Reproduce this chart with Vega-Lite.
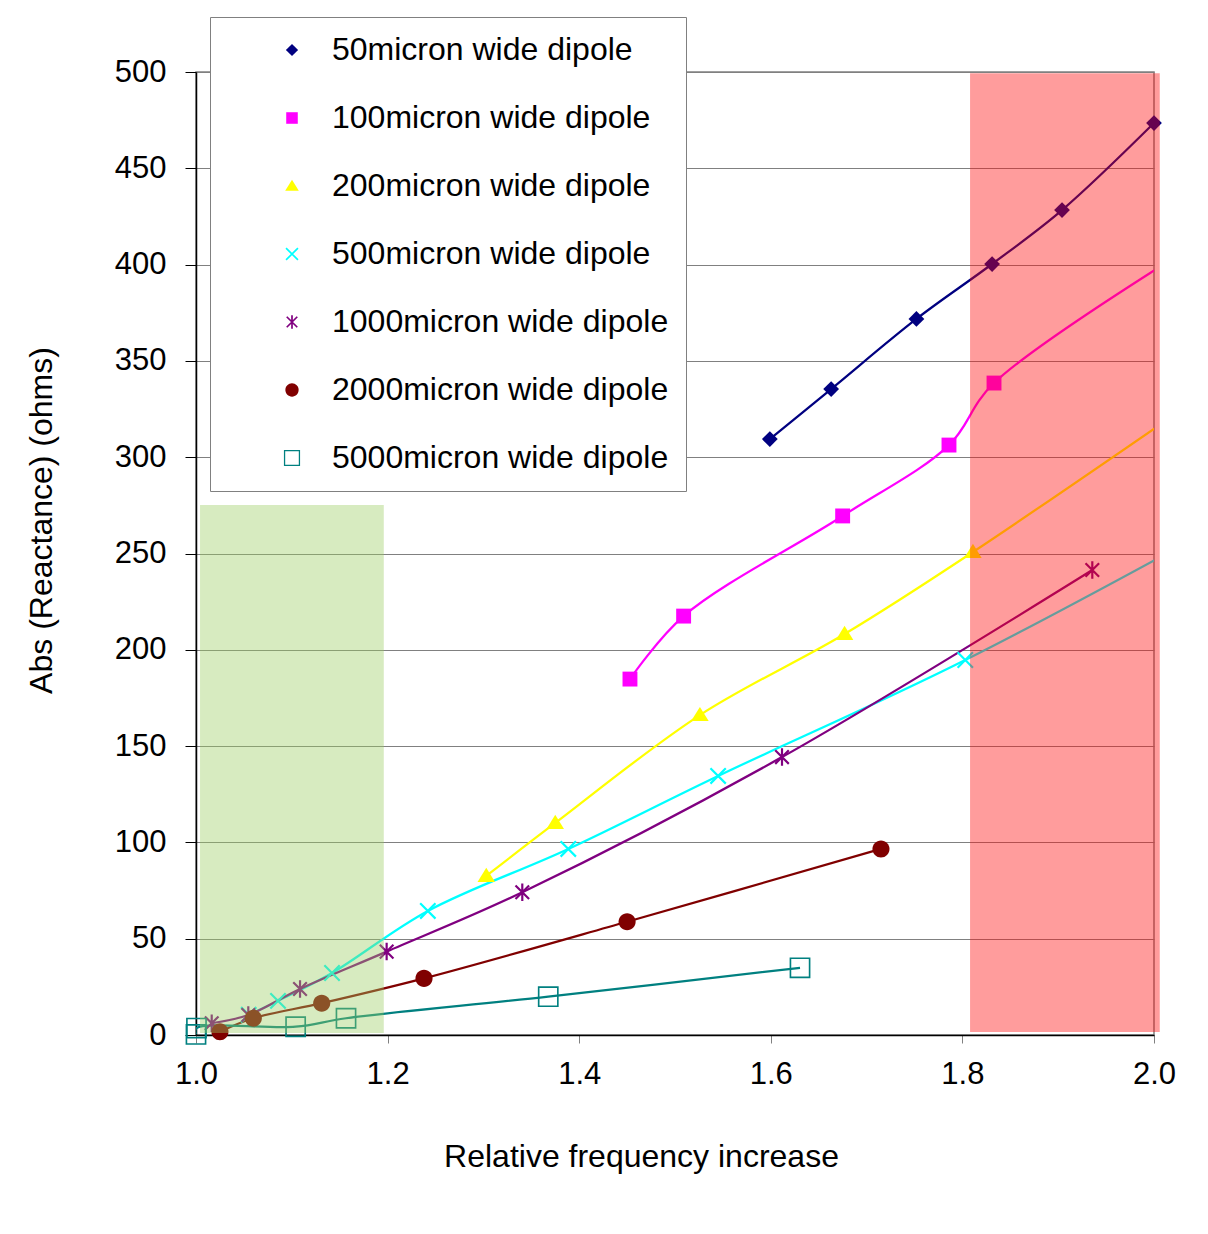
{
  "$schema": "https://vega.github.io/schema/vega-lite/v6.json",
  "width": 958,
  "height": 963,
  "autosize": {"type": "none"},
  "padding": {"left": 196, "top": 72, "right": 54, "bottom": 199},
  "background": "white",
  "config": {
    "font": "Liberation Sans",
    "view": {"stroke": "#808080", "strokeWidth": 1.5},
    "axis": {
      "labelFont": "Liberation Sans", "titleFont": "Liberation Sans",
      "labelFontSize": 31, "titleFontSize": 32, "titleFontWeight": "normal",
      "labelColor": "black", "titleColor": "black",
      "domainColor": "black", "domainWidth": 1.5
    },
    "legend": {
      "padding": 17, "rowPadding": 36, "symbolOffset": 49, "labelOffset": 24,
      "symbolSize": 289, "symbolStrokeWidth": 0,
      "labelFont": "Liberation Sans", "labelFontSize": 32, "labelColor": "black", "labelLimit": 800,
      "fillColor": "white", "strokeColor": "#808080"
    }
  },
  "datasets": {
    "pts": [
      {"series": "50micron wide dipole", "x": 1.599, "y": 309.4},
      {"series": "50micron wide dipole", "x": 1.663, "y": 335.4},
      {"series": "50micron wide dipole", "x": 1.752, "y": 371.8},
      {"series": "50micron wide dipole", "x": 1.831, "y": 400.3},
      {"series": "50micron wide dipole", "x": 1.904, "y": 428.3},
      {"series": "50micron wide dipole", "x": 2.0, "y": 473.5},
      {"series": "100micron wide dipole", "x": 1.453, "y": 184.8},
      {"series": "100micron wide dipole", "x": 1.509, "y": 217.5},
      {"series": "100micron wide dipole", "x": 1.675, "y": 269.5},
      {"series": "100micron wide dipole", "x": 1.786, "y": 306.3},
      {"series": "100micron wide dipole", "x": 1.833, "y": 338.5},
      {"series": "100micron wide dipole", "x": 2.12, "y": 434},
      {"series": "200micron wide dipole", "x": 1.303, "y": 82.6},
      {"series": "200micron wide dipole", "x": 1.375, "y": 110.1},
      {"series": "200micron wide dipole", "x": 1.526, "y": 166.1},
      {"series": "200micron wide dipole", "x": 1.677, "y": 208.2},
      {"series": "200micron wide dipole", "x": 1.811, "y": 250.8},
      {"series": "200micron wide dipole", "x": 2.12, "y": 356},
      {"series": "500micron wide dipole", "x": 1.055, "y": 10.5},
      {"series": "500micron wide dipole", "x": 1.0856, "y": 17.7},
      {"series": "500micron wide dipole", "x": 1.142, "y": 32.2},
      {"series": "500micron wide dipole", "x": 1.242, "y": 64.4},
      {"series": "500micron wide dipole", "x": 1.3886, "y": 96.6},
      {"series": "500micron wide dipole", "x": 1.545, "y": 134.5},
      {"series": "500micron wide dipole", "x": 1.803, "y": 194.7},
      {"series": "500micron wide dipole", "x": 2.12, "y": 279},
      {"series": "1000micron wide dipole", "x": 1.0164, "y": 6.1},
      {"series": "1000micron wide dipole", "x": 1.0546, "y": 10.4},
      {"series": "1000micron wide dipole", "x": 1.1086, "y": 23.9},
      {"series": "1000micron wide dipole", "x": 1.199, "y": 43.3},
      {"series": "1000micron wide dipole", "x": 1.3406, "y": 74.1},
      {"series": "1000micron wide dipole", "x": 1.6117, "y": 144.3},
      {"series": "1000micron wide dipole", "x": 1.9356, "y": 241.4},
      {"series": "2000micron wide dipole", "x": 1.025, "y": 1.7},
      {"series": "2000micron wide dipole", "x": 1.0598, "y": 8.7},
      {"series": "2000micron wide dipole", "x": 1.1312, "y": 16.5},
      {"series": "2000micron wide dipole", "x": 1.238, "y": 29.4},
      {"series": "2000micron wide dipole", "x": 1.45, "y": 58.8},
      {"series": "2000micron wide dipole", "x": 1.715, "y": 96.6},
      {"series": "5000micron wide dipole", "x": 1.0, "y": 0.3},
      {"series": "5000micron wide dipole", "x": 1.0005, "y": 3.6},
      {"series": "5000micron wide dipole", "x": 1.104, "y": 4.3},
      {"series": "5000micron wide dipole", "x": 1.1566, "y": 8.7},
      {"series": "5000micron wide dipole", "x": 1.3677, "y": 19.9},
      {"series": "5000micron wide dipole", "x": 1.6305, "y": 34.9}
    ],
    "zones": [
      {"zone": "green", "x1": 1.0042, "x2": 1.196, "y1": 1, "y2": 275.2},
      {"zone": "red", "x1": 1.808, "x2": 2.006, "y1": 1.5, "y2": 499.3}
    ]
  },
  "layer": [
    {
      "data": {"name": "pts"},
      "mark": {"type": "line", "interpolate": "catmull-rom", "strokeWidth": 2.25, "clip": true},
      "encoding": {
        "x": {"field": "x", "type": "quantitative", "scale": {"domain": [1, 2]},
          "axis": {"values": [1, 1.2, 1.4, 1.6, 1.8, 2.0], "format": ".1f", "grid": false, "tickSize": 8, "tickColor": "#808080",
            "labelPadding": 16, "labelFlush": false, "labelOverlap": false, "title": "Relative frequency increase", "titlePadding": 52, "titleX": 445}},
        "y": {"field": "y", "type": "quantitative", "scale": {"domain": [0, 500]},
          "axis": {"values": [0, 50, 100, 150, 200, 250, 300, 350, 400, 450, 500], "grid": true, "gridColor": "#808080", "gridWidth": 1,
            "tickSize": 11, "tickColor": "black", "labelPadding": 19, "title": "Abs (Reactance) (ohms)", "titlePadding": 56, "titleY": 448}},
        "color": {"field": "series", "type": "nominal",
          "scale": {"domain": ["50micron wide dipole", "100micron wide dipole", "200micron wide dipole", "500micron wide dipole", "1000micron wide dipole", "2000micron wide dipole", "5000micron wide dipole"],
            "range": ["#000080", "#ff00ff", "#ffff00", "#00ffff", "#800080", "#800000", "#008080"]}}
      }
    },
    {
      "data": {"name": "pts"},
      "transform": [{"filter": "datum.x <= 2.0001"}],
      "mark": {"type": "point", "filled": true, "size": 480, "strokeWidth": 0, "opacity": 1},
      "encoding": {
        "x": {"field": "x", "type": "quantitative"},
        "y": {"field": "y", "type": "quantitative"},
        "color": {"field": "series", "type": "nominal",
          "legend": {"title": null, "orient": "none", "legendX": 14, "legendY": -55}},
        "shape": {"field": "series", "type": "nominal",
          "scale": {"domain": ["50micron wide dipole", "100micron wide dipole", "200micron wide dipole", "500micron wide dipole", "1000micron wide dipole", "2000micron wide dipole", "5000micron wide dipole"],
            "range": [
              "M0,-0.72L0.72,0L0,0.72L-0.72,0Z",
              "M-0.68,-0.68H0.68V0.68H-0.68Z",
              "M0,-0.75L0.8,0.55L-0.8,0.55Z",
              "M-0.63,-0.77L0.77,0.63L0.63,0.77L-0.77,-0.63ZM-0.63,0.77L-0.77,0.63L0.63,-0.77L0.77,-0.63Z",
              "M-0.55,-0.69L0.69,0.55L0.55,0.69L-0.69,-0.55ZM-0.55,0.69L-0.69,0.55L0.55,-0.69L0.69,-0.55ZM-0.1,-0.8H0.1V0.8H-0.1Z",
              "M-0.78,0A0.78,0.78,0,1,1,0.78,0A0.78,0.78,0,1,1,-0.78,0Z",
              "M-0.95,-0.95H0.95V0.95H-0.95ZM-0.8,-0.8V0.8H0.8V-0.8Z"
            ]},
          "legend": {"title": null, "orient": "none", "legendX": 14, "legendY": -55}}
      }
    },
    {
      "data": {"name": "zones"},
      "mark": {"type": "rect", "opacity": 0.4},
      "encoding": {
        "x": {"field": "x1", "type": "quantitative"},
        "x2": {"field": "x2"},
        "y": {"field": "y1", "type": "quantitative"},
        "y2": {"field": "y2"},
        "fill": {"field": "zone", "type": "nominal", "scale": {"domain": ["green", "red"], "range": ["#9acd62", "#ff0808"]}, "legend": null}
      }
    }
  ]
}
